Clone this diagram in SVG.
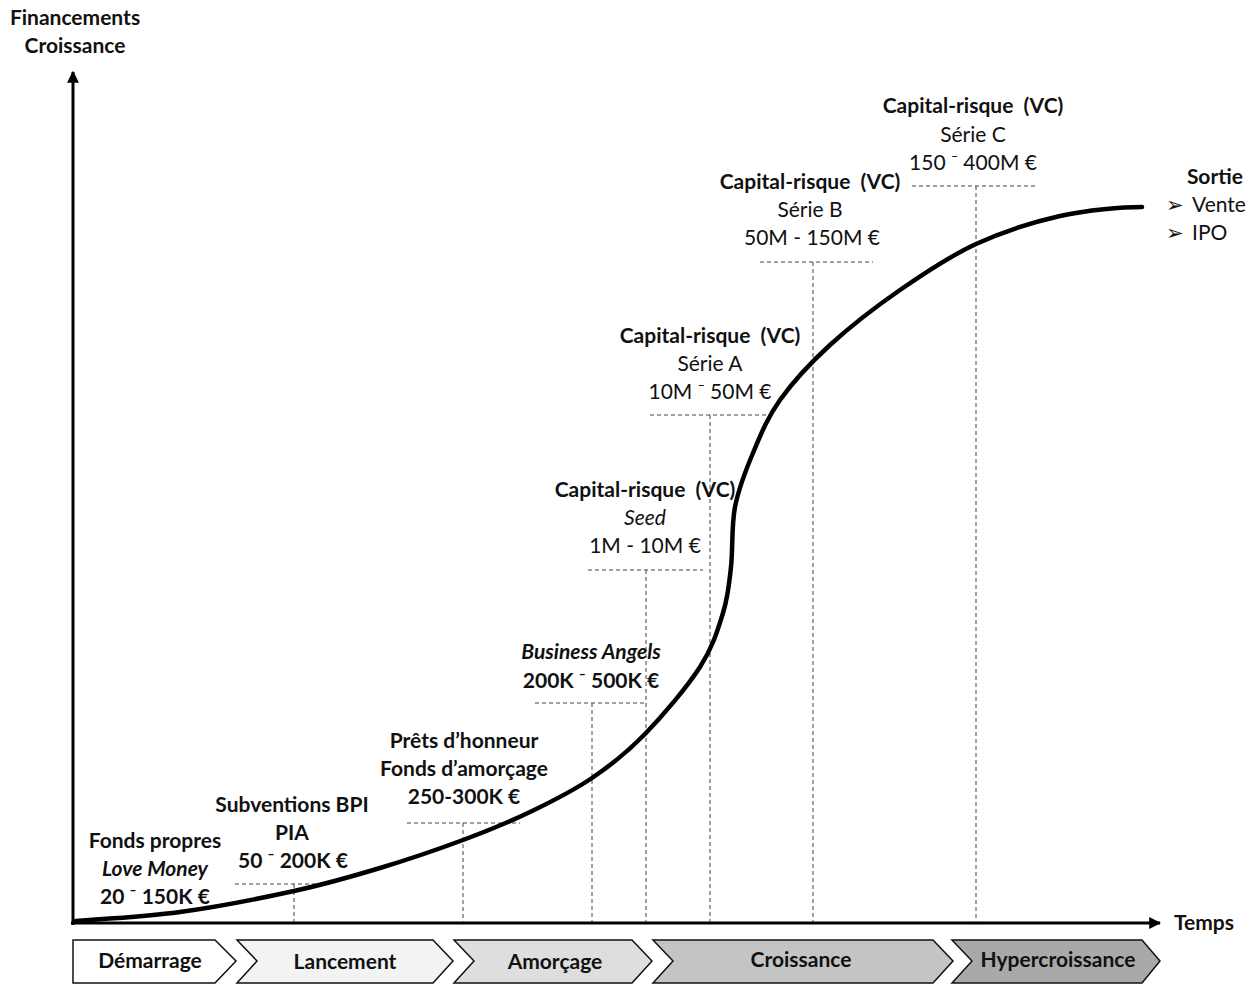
<svg xmlns="http://www.w3.org/2000/svg" width="1258" height="985" viewBox="0 0 1258 985">
<style>
text{font-family:Lato,"Open Sans","Liberation Sans",sans-serif;font-size:21px;fill:#111;text-anchor:middle}
.b{font-weight:bold}
.i{font-style:italic}
.l{text-anchor:start}
.r{text-anchor:end}
.dash{stroke:#444;stroke-width:1;stroke-dasharray:4 3;fill:none}
.axis{stroke:#000;stroke-width:3;fill:none}
.chev{stroke:#111;stroke-width:1.5}
.ct{font-weight:bold;font-size:21px}
</style>
<defs>
<marker id="ah" viewBox="0 0 10 10" refX="9" refY="5" markerWidth="4" markerHeight="4" orient="auto">
<path d="M0,0 L10,5 L0,10 Z" fill="#000"/>
</marker>
</defs>
<rect width="1258" height="985" fill="#fff"/>

<g id="axes">
<line class="axis" x1="73" y1="925" x2="73" y2="72" marker-end="url(#ah)"/>
<line class="axis" x1="71" y1="923" x2="1160" y2="923" marker-end="url(#ah)"/>
<text class="b" x="75" y="25">Financements</text>
<text class="b" x="75" y="53">Croissance</text>
<text class="b l" x="1174" y="930">Temps</text>
</g>

<g id="connectors">
<line class="dash" x1="235" y1="884" x2="333" y2="884"/>
<line class="dash" x1="294" y1="884" x2="294" y2="922"/>
<line class="dash" x1="407" y1="823" x2="520" y2="823"/>
<line class="dash" x1="463" y1="823" x2="463" y2="922"/>
<line class="dash" x1="535" y1="703" x2="647" y2="703"/>
<line class="dash" x1="592" y1="703" x2="592" y2="922"/>
<line class="dash" x1="588" y1="570" x2="703" y2="570"/>
<line class="dash" x1="646" y1="570" x2="646" y2="922"/>
<line class="dash" x1="650" y1="415" x2="770" y2="415"/>
<line class="dash" x1="710" y1="415" x2="710" y2="922"/>
<line class="dash" x1="760" y1="262" x2="873" y2="262"/>
<line class="dash" x1="813" y1="262" x2="813" y2="922"/>
<line class="dash" x1="912" y1="186" x2="1035" y2="186"/>
<line class="dash" x1="976" y1="186" x2="976" y2="922"/>
<path id="curve" fill="none" stroke="#000" stroke-width="4.5" stroke-linecap="round" d="M76,921 C93.3,919.5 143.7,917 180,912 C216.3,907 260.7,898.3 294,891 C327.3,883.7 351.8,876.5 380,868 C408.2,859.5 438,849.3 463,840 C488,830.7 508.5,822.3 530,812 C551.5,801.7 572.8,791 592,778 C611.2,765 627,752.5 645,734 C663,715.5 687,687.2 700,667 C713,646.8 717.8,629.7 723,613 C728.2,596.3 729,584.7 731,567 C733,549.3 731.3,526 735,507 C738.7,488 745.5,470.8 753,453 C760.5,435.2 767.2,418 780,400 C792.8,382 810,363.3 830,345 C850,326.7 875.7,306.8 900,290 C924.3,273.2 949.3,256.3 976,244 C1002.7,231.7 1032.3,222.2 1060,216 C1087.7,209.8 1122,207 1142,207"/>
</g>

<g id="fonds-propres">
<text class="b" x="155" y="848">Fonds propres</text>
<text class="b i" x="155" y="876">Love Money</text>
<text class="b" x="155" y="904">20 ⁻ 150K €</text>
</g>
<g id="subventions">
<text class="b" x="292" y="812">Subventions BPI</text>
<text class="b" x="292" y="840">PIA</text>
<text class="b" x="293" y="868">50 ⁻ 200K €</text>
</g>
<g id="prets">
<text class="b" x="464" y="748">Prêts d’honneur</text>
<text class="b" x="464" y="776">Fonds d’amorçage</text>
<text class="b" x="464" y="804">250-300K €</text>
</g>
<g id="business-angels">
<text class="b i" x="591" y="659">Business Angels</text>
<text class="b" x="591" y="688">200K ⁻ 500K €</text>
</g>
<g id="seed">
<text class="b" x="645" y="497">Capital-risque&#160; (VC)</text>
<text class="i" x="645" y="525">Seed</text>
<text x="645" y="553">1M - 10M €</text>
</g>
<g id="serie-a">
<text class="b" x="710" y="343">Capital-risque&#160; (VC)</text>
<text x="710" y="371">Série A</text>
<text x="710" y="399">10M ⁻ 50M €</text>
</g>
<g id="serie-b">
<text class="b" x="810" y="189">Capital-risque&#160; (VC)</text>
<text x="810" y="217">Série B</text>
<text x="812" y="245">50M - 150M €</text>
</g>
<g id="serie-c">
<text class="b" x="973" y="113">Capital-risque&#160; (VC)</text>
<text x="973" y="142">Série C</text>
<text x="973" y="170">150 ⁻ 400M €</text>
</g>
<g id="sortie">
<text class="b r" x="1243" y="184">Sortie</text>
<text class="l" x="1166" y="212">➢<tspan x="1192">Vente</tspan></text>
<text class="l" x="1166" y="240">➢<tspan x="1192">IPO</tspan></text>
</g>

<g id="phase-demarrage">
<path class="chev" fill="#ffffff" d="M73,940 L215,940 L236,961 L215,983 L73,983 Z"/>
<text class="ct" x="150" y="968">Démarrage</text>
</g>
<g id="phase-lancement">
<path class="chev" fill="#f3f3f3" d="M237,940 L433,940 L453,961 L433,983 L237,983 L257,961 Z"/>
<text class="ct" x="345" y="969">Lancement</text>
</g>
<g id="phase-amorcage">
<path class="chev" fill="#dedede" d="M454,940 L632,940 L652,961 L632,983 L454,983 L474,961 Z"/>
<text class="ct" x="555" y="969">Amorçage</text>
</g>
<g id="phase-croissance">
<path class="chev" fill="#c4c4c4" d="M653,940 L933,940 L953,961 L933,983 L653,983 L673,961 Z"/>
<text class="ct" x="801" y="967">Croissance</text>
</g>
<g id="phase-hypercroissance">
<path class="chev" fill="#a9a9a9" d="M952,940 L1142,940 L1160,961 L1142,983 L952,983 L972,961 Z"/>
<text class="ct" x="1058" y="967">Hypercroissance</text>
</g>
</svg>
